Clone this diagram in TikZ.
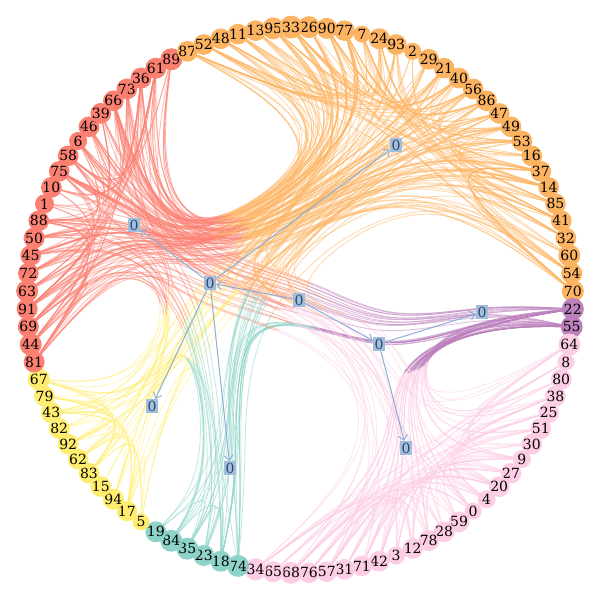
\documentclass[tikz,border=0pt]{standalone}
\usepackage{fontspec}
\setmainfont{DejaVu Serif}
\usetikzlibrary{arrows.meta}
\pgfdeclarelayer{background}
\pgfsetlayers{background,main}
\definecolor{cR}{RGB}{251,128,114}
\definecolor{cO}{RGB}{253,180,98}
\definecolor{cK}{RGB}{252,205,229}
\definecolor{cP}{RGB}{188,128,189}
\definecolor{cT}{RGB}{141,211,199}
\definecolor{cY}{RGB}{255,237,111}
\definecolor{hubfill}{RGB}{160,190,222}
\definecolor{hubtext}{RGB}{50,70,100}
\definecolor{hubline}{RGB}{140,175,215}
% hub positions (px)
\def\hxR{134}\def\hyR{225}
\def\hxO{396}\def\hyO{145}
\def\hxY{152}\def\hyY{406}
\def\hxT{230}\def\hyT{468}
\def\hxP{482}\def\hyP{312}
\def\hxK{406}\def\hyK{448}
\def\hxB{210}\def\hyB{283}
\def\hxF{379}\def\hyF{344}
\def\hxC{299}\def\hyC{300}
\def\parR{B}\def\parO{B}\def\parY{B}\def\parT{B}\def\parP{F}\def\parK{F}
\def\zzbeta{0.82}
\newcount\zznpts \newcount\zzki
\newcommand\zzsetgrp[2]{%
  \ifnum#1<24 \def#2{O}\else\ifnum#1<26 \def#2{P}\else\ifnum#1<51 \def#2{K}\else
  \ifnum#1<57 \def#2{T}\else\ifnum#1<68 \def#2{Y}\else\ifnum#1<89 \def#2{R}\else
  \def#2{O}\fi\fi\fi\fi\fi\fi}
\newcommand\zzposof[3]{%
  \pgfmathsetmacro#2{300+273*cos(88.125-3.75*#1)}%
  \pgfmathsetmacro#3{300-273*sin(88.125-3.75*#1)}}
\newcommand\zzaddpt[2]{%
  \expandafter\edef\csname qx\the\zznpts\endcsname{#1}%
  \expandafter\edef\csname qy\the\zznpts\endcsname{#2}%
  \advance\zznpts by 1\relax}
\newcommand\zzaddhub[1]{\zzaddpt{\csname hx#1\endcsname}{\csname hy#1\endcsname}}
\newcommand\zzgetP[3]{\edef#2{\csname qx#1\endcsname}\edef#3{\csname qy#1\endcsname}}
\newcommand\zzpiece[3]{%
  \zzgetP{#1}\zzax\zzay \zzgetP{#2}\zzbx\zzby \zzgetP{#3}\zzcx\zzcy
  \pgfmathsetmacro\zzcax{(2*\zzax+\zzbx)/3}\pgfmathsetmacro\zzcay{(2*\zzay+\zzby)/3}%
  \pgfmathsetmacro\zzcbx{(\zzax+2*\zzbx)/3}\pgfmathsetmacro\zzcby{(\zzay+2*\zzby)/3}%
  \pgfmathsetmacro\zzex{(\zzax+4*\zzbx+\zzcx)/6}\pgfmathsetmacro\zzey{(\zzay+4*\zzby+\zzcy)/6}%
  \edef\zzpc{ .. controls (\zzcax,\zzcay) and (\zzcbx,\zzcby) .. (\zzex,\zzey)}}
\newcommand\bedge[2]{%
  \zzsetgrp{#1}\zzga \zzsetgrp{#2}\zzgb
  \zzposof{#1}\zzux\zzuy \zzposof{#2}\zzvx\zzvy
  \zznpts=0
  \zzaddpt{\zzux}{\zzuy}%
  \zzaddhub{\zzga}%
  \if\zzga\zzgb\else
    \edef\zzpa{\csname par\zzga\endcsname}\edef\zzpb{\csname par\zzgb\endcsname}%
    \zzaddhub{\zzpa}%
    \if\zzpa\zzpb\else\zzaddhub{C}\zzaddhub{\zzpb}\fi
    \zzaddhub{\zzgb}%
  \fi
  \zzaddpt{\zzvx}{\zzvy}%
  \edef\zzm{\the\numexpr\zznpts-1\relax}%
  \zzki=1
  \loop\ifnum\zzki<\zzm\relax
    \zzgetP{\the\zzki}\zzox\zzoy
    \pgfmathsetmacro\zztx{\zzbeta*\zzox+(1-\zzbeta)*(\zzux+(\zzvx-\zzux)*\the\zzki/\zzm)}%
    \pgfmathsetmacro\zzty{\zzbeta*\zzoy+(1-\zzbeta)*(\zzuy+(\zzvy-\zzuy)*\the\zzki/\zzm)}%
    \expandafter\let\csname qx\the\zzki\endcsname\zztx
    \expandafter\let\csname qy\the\zzki\endcsname\zzty
    \advance\zzki by 1
  \repeat
  \zzgetP{0}\zzax\zzay \zzgetP{1}\zzbx\zzby
  \pgfmathsetmacro\zzlx{(5*\zzax+\zzbx)/6}\pgfmathsetmacro\zzly{(5*\zzay+\zzby)/6}%
  \edef\zzpathA{(v#1.center) -- (\zzlx,\zzly)}%
  \edef\zzpathB{}%
  \edef\zzhalf{\the\numexpr\zzm/2+1\relax}%
  \zzki=2
  \loop\ifnum\zzki<\numexpr\zzm+1\relax
    \edef\zzia{\the\numexpr\zzki-2\relax}\edef\zzib{\the\numexpr\zzki-1\relax}\edef\zzic{\the\zzki}%
    \zzpiece{\zzia}{\zzib}{\zzic}%
    \ifnum\zzki>\zzhalf\relax
      \edef\zzpathB{\zzpathB\zzpc}%
    \else
      \edef\zzpathA{\zzpathA\zzpc}\edef\zzpathB{(\zzex,\zzey)}%
    \fi
    \advance\zzki by 1
  \repeat
  \edef\zzia{\the\numexpr\zzm-1\relax}%
  \zzpiece{\zzia}{\zzm}{\zzm}%
  \edef\zzpathB{\zzpathB\zzpc\space -- (v#2.center)}%
  \edef\zztmp{\noexpand\draw[edg,draw=c\zzga] \zzpathA; \noexpand\draw[edg,draw=c\zzgb] \zzpathB;}\zztmp
}
\newcommand\randedges[5]{%
  \foreach \rr in {1,...,#1}{%
    \pgfmathrandominteger{\zzra}{#2}{#3}%
    \pgfmathrandominteger{\zzrb}{#4}{#5}%
    \pgfmathtruncatemacro\zzra{mod(\zzra,96)}%
    \pgfmathtruncatemacro\zzrb{mod(\zzrb,96)}%
    \ifnum\zzra=\zzrb\relax\else\bedge{\zzra}{\zzrb}\fi}}
\tikzset{
  vtx/.style={circle, inner sep=0pt, text=black, font=\fontsize{7}{8}\selectfont},
  hub/.style={rectangle, fill=hubfill, text=hubtext, inner sep=0.7pt, font=\fontsize{7}{8}\selectfont},
  harr/.style={draw=hubline, line width=0.5pt, -{Straight Barb[length=2.5pt,width=4.5pt]}},
  edg/.style={line width=0.45pt, draw opacity=0.5, line cap=butt}
}
\begin{document}
\begin{tikzpicture}[x=0.5pt,y=-0.5pt]
\useasboundingbox (0,0) rectangle (600,600);
% circle vertices, clockwise from the top
\foreach \lab/\rad [count=\i from 0] in {
 26/11,90/10.5,77/10,7/8.5,24/10.5,93/10,2/8.5,29/10,21/9.5,40/10,56/9.5,86/10,47/10,49/10,53/10,16/9.5,37/10,14/10,85/10,41/10,32/10,60/11,54/10.5,70/11,
 22/11,55/11,
 64/11,8/8.5,80/10,38/10,25/10,51/9,30/9.5,9/9,27/9.5,20/9.5,4/9,0/8.5,59/9.5,28/10,78/10,12/9.5,3/9,42/10,71/10,31/10,57/10,76/10,68/11,65/10.5,34/11,
 74/11,18/10.5,23/10.5,35/11,84/11,19/10.5,
 5/8.5,17/9.5,94/10.5,15/9.5,83/9.5,62/9,92/9,82/10,43/10.5,79/10,67/11,
 81/10.5,44/11,69/10.5,91/10.5,63/11,72/10,45/10,50/10.5,88/10,1/9.5,10/10,75/10,58/10,6/9,46/9.5,39/10,66/10,73/10,36/10.5,61/10.5,89/11,
 87/9,52/9.5,48/10,11/9.5,13/10,95/11,33/11.5}{%
  \zzsetgrp{\i}\zzg
  \node[vtx, fill=c\zzg, minimum size=\rad pt] (v\i) at ({300+273*cos(88.125-3.75*\i)},{300-273*sin(88.125-3.75*\i)}) {\lab};
}
% bundled connectors
\begin{pgfonlayer}{background}
\pgfmathsetseed{7}
\randedges{70}{68}{88}{68}{88}
\randedges{110}{68}{88}{89}{119}
\randedges{110}{89}{119}{89}{119}
\randedges{95}{26}{50}{26}{50}
\randedges{40}{24}{25}{26}{50}
\randedges{14}{24}{25}{68}{88}
\randedges{10}{24}{25}{51}{56}
\randedges{14}{26}{50}{68}{88}
\randedges{10}{26}{50}{89}{119}
\randedges{24}{57}{67}{57}{67}
\randedges{20}{57}{67}{89}{119}
\randedges{10}{57}{67}{68}{88}
\randedges{16}{51}{56}{89}{119}
\randedges{8}{51}{56}{68}{88}
\randedges{8}{51}{56}{51}{56}
\randedges{6}{51}{56}{57}{67}
\end{pgfonlayer}
% hierarchy nodes
\node[hub] (hA) at (134,225) {0};
\node[hub] (hB) at (210,283) {0};
\node[hub] (hC) at (299,300) {0};
\node[hub] (hD) at (396,145) {0};
\node[hub] (hE) at (482,312) {0};
\node[hub] (hF) at (379,344) {0};
\node[hub] (hG) at (152,406) {0};
\node[hub] (hH) at (230,468) {0};
\node[hub] (hI) at (406,448) {0};
\draw[harr] (hB) -- (hA);
\draw[harr] (hB) -- (hD);
\draw[harr] (hB) -- (hG);
\draw[harr] (hB) -- (hH);
\draw[harr] (hC) -- (hB);
\draw[harr] (hC) -- (hF);
\draw[harr] (hF) -- (hE);
\draw[harr] (hF) -- (hI);
\end{tikzpicture}
\end{document}
